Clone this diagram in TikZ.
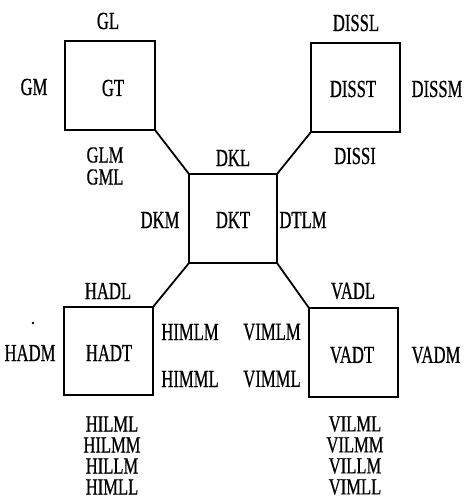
\documentclass[tikz,border=0pt]{standalone}
\usepackage{fontspec}
\setmainfont[FakeStretch=0.68,FakeBold=0.6]{Liberation Serif}
\begin{document}
\begin{tikzpicture}[x=1pt,y=-1pt,
  box/.style={draw,line width=1.3pt},
  conn/.style={line width=1.8pt},
  lbl/.style={font=\fontsize{24.5}{21}\selectfont,inner sep=0pt,anchor=center},
  stk/.style={font=\fontsize{23}{21}\selectfont,inner sep=0pt,anchor=center,xscale=1.06},
]
\useasboundingbox (0,0) rectangle (465,499);
% boxes
\draw[box] (65,41) rectangle (155,130);
\draw[box] (311,43) rectangle (400,132);
\draw[box] (189,174) rectangle (277,263);
\draw[box] (64,307) rectangle (153,395);
\draw[box] (309,308) rectangle (398,397);
\coordinate (gt) at (155,130);
\coordinate (ds) at (311,132);
\coordinate (dk1) at (189,174);
\coordinate (dk2) at (277,174);
\coordinate (dk3) at (189,263);
\coordinate (dk4) at (277,263);
\coordinate (ha) at (153,307);
\coordinate (va) at (309,308);
\draw[conn] (gt) -- (dk1);
\draw[conn] (ds) -- (dk2);
\draw[conn] (ha) -- (dk3);
\draw[conn] (va) -- (dk4);
% labels
\node[lbl] (gl) at (108,21) {GL};
\node[lbl] (gm) at (34,87) {GM};
\node[lbl] (gtt) at (113,88) {GT};
\node[stk] (glm) at (105,155) {GLM};
\node[stk] (gml) at (105,177) {GML};
\node[lbl] (dssl) at (356,23) {DISSL};
\node[lbl] (dsst) at (353,89) {DISST};
\node[lbl] (dssm) at (437,89) {DISSM};
\node[lbl] (dssi) at (355,156) {DISSI};
\node[lbl] (dkl) at (233,158) {DKL};
\node[lbl] (dkm) at (160,220) {DKM};
\node[lbl] (dkt) at (233,220) {DKT};
\node[lbl] (dtlm) at (303,220) {DTLM};
\node[lbl] (hadl) at (108,291) {HADL};
\node[lbl] (hadm) at (30,353) {HADM};
\node[lbl] (hadt) at (109,353) {HADT};
\node[lbl] (himlm) at (190,332) {HIMLM};
\node[lbl] (himml) at (190,379) {HIMML};
\node[stk] (h1) at (112,424) {HILML};
\node[stk] (h2) at (112,445) {HILMM};
\node[stk] (h3) at (112,466) {HILLM};
\node[stk] (h4) at (112,487) {HIMLL};
\node[lbl] (vadl) at (353,291) {VADL};
\node[lbl] (vadt) at (352,355) {VADT};
\node[lbl] (vadm) at (436,355) {VADM};
\node[lbl] (vimlm) at (272,332) {VIMLM};
\node[lbl] (vimml) at (272,379) {VIMML};
\node[stk] (v1) at (355,424) {VILML};
\node[stk] (v2) at (355,445) {VILMM};
\node[stk] (v3) at (355,466) {VILLM};
\node[stk] (v4) at (355,487) {VIMLL};
\fill (33,323) circle (1.3pt);
\end{tikzpicture}
\end{document}
